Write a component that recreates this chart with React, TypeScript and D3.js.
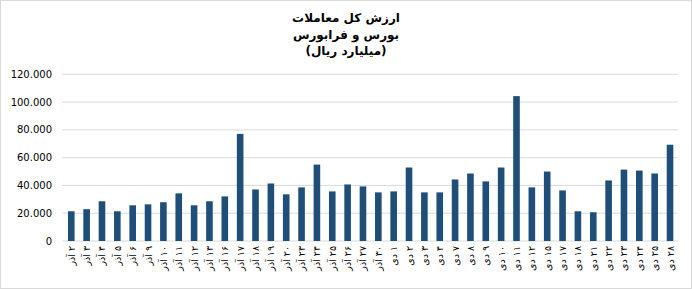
import React from "react";
import * as d3 from "d3";

const categories: string[] = [
  "۲ آذر", "۳ آذر", "۴ آذر", "۵ آذر", "۶ آذر", "۹ آذر", "۱۰ آذر", "۱۱ آذر", "۱۲ آذر", "۱۳ آذر",
  "۱۶ آذر", "۱۷ آذر", "۱۸ آذر", "۱۹ آذر", "۲۰ آذر", "۲۳ آذر", "۲۴ آذر", "۲۵ آذر", "۲۶ آذر", "۲۷ آذر",
  "۳۰ آذر", "۱ دی", "۲ دی", "۳ دی", "۴ دی", "۷ دی", "۸ دی", "۹ دی", "۱۰ دی", "۱۱ دی",
  "۱۲ دی", "۱۵ دی", "۱۷ دی", "۱۸ دی", "۲۱ دی", "۲۲ دی", "۲۳ دی", "۲۴ دی", "۲۵ دی", "۲۸ دی",
];

const values: number[] = [
  21.4, 22.9, 28.6, 21.4, 25.7, 26.4, 27.9, 34.3, 25.7, 28.6,
  32.1, 77.1, 37.1, 41.4, 33.6, 38.6, 55.0, 35.7, 40.7, 39.3,
  35.0, 35.7, 52.9, 35.0, 35.0, 44.3, 48.6, 42.9, 52.9, 104.3,
  38.6, 50.0, 36.4, 21.4, 20.7, 43.6, 51.4, 50.7, 48.6, 69.3,
];

const yTicks: number[] = [0, 20, 40, 60, 80, 100, 120];
const yTickLabels: string[] = ["0", "20.000", "40.000", "60.000", "80.000", "100.000", "120.000"];

const titleLines: string[] = ["ارزش کل معاملات", "بورس و فرابورس", "(میلیارد ریال)"];

const W = 692;
const H = 289;
const plot = { left: 63.6, right: 677.7, top: 74.3, bottom: 241 };

export default function App() {
  const x = d3.scaleBand<string>().domain(categories).range([plot.left, plot.right]).paddingInner(0.57).paddingOuter(0.285);
  const y = d3.scaleLinear().domain([0, 120]).range([plot.bottom, plot.top]);
  const font = "'DejaVu Sans', Verdana, sans-serif";
  return (
    <svg width={W} height={H} style={{ position: "absolute", left: 0, top: 0 }} fontFamily={font}>
      <rect x={0} y={0} width={W} height={H} fill="#fff" />
      <rect x={0.5} y={0.5} width={W - 1} height={H - 1} fill="none" stroke="#d9d9d9" />
      {titleLines.map((t, i) => (
        <text key={i} x={346} y={22 + i * 16.5} textAnchor="middle" fontSize={12} fontWeight="bold" fill="#000" direction="rtl">
          {t}
        </text>
      ))}
      {yTicks.map((t, i) => (
        <g key={t}>
          <line x1={62} x2={plot.right} y1={y(t)} y2={y(t)} stroke="#d9d9d9" strokeWidth={1} />
          <text x={52} y={y(t) + 3.6} textAnchor="end" fontSize={10} fill="#000">
            {yTickLabels[i]}
          </text>
        </g>
      ))}
      {categories.map((c, i) => (
        <rect key={c} x={x(c)} y={y(values[i])} width={x.bandwidth()} height={plot.bottom - y(values[i])} fill="#1f4e79" />
      ))}
      {categories.map((c) => {
        const cx = (x(c) as number) + x.bandwidth() / 2;
        const ty = 246;
        return (
          <text key={c} transform={`translate(${cx + 3.5},${ty}) rotate(-90)`} textAnchor="start" direction="rtl" fontSize={9.5} fill="#000">
            {c}
          </text>
        );
      })}
    </svg>
  );
}
